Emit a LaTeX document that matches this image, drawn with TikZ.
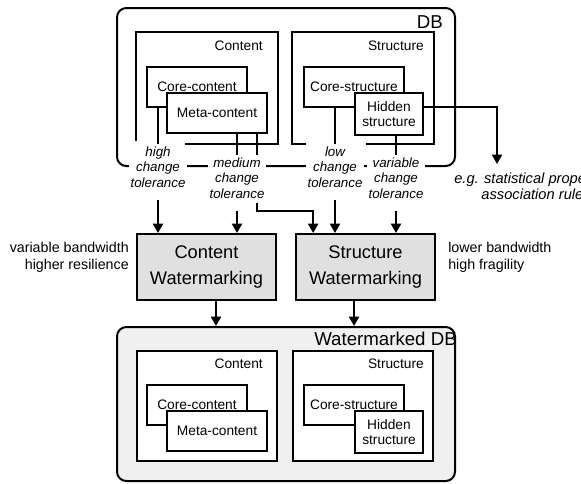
\documentclass[tikz,border=0pt]{standalone}
\usepackage{fontspec}
\setmainfont{Liberation Sans}
\usetikzlibrary{arrows.meta,calc}
\definecolor{wmgray}{RGB}{224,224,224}
\definecolor{dbgray}{RGB}{240,240,240}

\tikzstyle{db frame}=[draw, line width=1.5pt, rounded corners=7pt]
\tikzstyle{db label}=[anchor=east, inner sep=0pt, font=\fontsize{14}{16}\selectfont]
\tikzstyle{part}=[draw, line width=1.5pt, fill=white, inner sep=0pt, align=center, font=\fontsize{10.3}{11.3}\selectfont]
\tikzstyle{core part}=[part, minimum width=75pt, minimum height=30pt]
\tikzstyle{hidden part}=[part, minimum width=51pt, minimum height=31.5pt]
\tikzstyle{outer part}=[part, minimum width=105pt, minimum height=82.5pt]
\tikzstyle{wm box}=[draw, line width=1.5pt, fill=wmgray, minimum width=104pt, minimum height=49.5pt, align=center, font=\fontsize{13.7}{19.5}\selectfont]
\tikzstyle{tolerance}=[fill=white, inner sep=1.5pt, align=center, font=\fontsize{10}{11.6}\selectfont\itshape]
\tikzstyle{note}=[inner sep=0pt, font=\fontsize{10.7}{12.75}\selectfont]
\tikzstyle{link}=[draw, line width=1.5pt]
\tikzstyle{flow}=[draw, line width=1.5pt, -{Triangle[width=7.5pt,length=7pt]}]

\begin{document}
\begin{tikzpicture}[x=0.75pt, y=-0.75pt]
    \useasboundingbox (0,0) rectangle (581,483);
    % The two databases
    \node[db frame, minimum width=253.5pt, minimum height=118.5pt] (tdb) at (286,87) {};
    \node[db frame, fill=dbgray, minimum width=253.5pt, minimum height=115.5pt] (bdb) at (286,404) {};
    \node[db label] (tdblabel) at (443,22) {DB};
    \node[db label] (bdblabel) at (457,339) {Watermarked DB};
    % Change tolerance of each part
    \foreach \pos/\name/\txt in {{(158,167)/high/high},{(237,178)/medium/medium},
        {(335,167)/low/low},{(396,178)/variable/variable}}
    \node[tolerance] (\name) at \pos {\txt\\change\\tolerance};
    % Content and structure, open on top, closed below
    \node[outer part, draw=none, fill=none] (tcont) at (207,88) {};
    \node[outer part, draw=none, fill=none] (tstruct) at (363,88) {};
    \node[outer part] (bcont) at (207,406) {};
    \node[outer part] (bstruct) at (363,406) {};
    \path[link] ($(tcont.south west)+(49,0)$) -| (tcont.north east) -| ($(tcont.south west)+(0,-3)$);
    \path[link] ($(tstruct.south west)+(14,0)$) -| (tstruct.north west) -| (tstruct.south east) -- +(-68,0);
    \foreach \db in {t,b} {
        \node[note, anchor=east, font=\fontsize{10.3}{12}\selectfont] (\db contlabel) at ($(\db cont.north east)+(-15,14)$) {Content};
        \node[note, anchor=east, font=\fontsize{10.3}{12}\selectfont] (\db structlabel) at ($(\db struct.north east)+(-10,14)$) {Structure};
    }
    \foreach \db/\dy in {t/0, b/318} {
        \node[core part] (\db core) at (197,87+\dy) {Core-content};
        \node[core part] (\db meta) at (217,113+\dy) {Meta-content};
        \node[core part] (\db corestr) at (354,87+\dy) {Core-structure};
        \node[hidden part] (\db hidden) at (389,114+\dy) {Hidden\\structure};
    }
    % Parts to their tolerance
    \path[link] (tcore.south -| high.north) -- (high.north);
    \path[link] (tmeta.south -| medium.north) -- (medium.north);
    \path[link] ($(tmeta.south -| medium.north)+(20,0)$) -- ($(medium.north)+(20,0)$);
    \path[link] (tcorestr.south -| low.north) -- (low.north);
    \path[link] (thidden.south -| variable.north) -- (variable.north);
    % Watermarking
    \node[wm box] (cwm) at (206.5,267) {Content\\Watermarking};
    \node[wm box] (swm) at (365.5,267) {Structure\\Watermarking};
    \node[note, anchor=east, align=right] (cwmnote) at (129,257) {variable bandwidth\\higher resilience};
    \node[note, anchor=west, align=left] (swmnote) at (448,257) {lower bandwidth\\high fragility};
    \foreach \src/\dest in {high/cwm, medium/cwm, low/swm, variable/swm}
    \path[flow, shorten <=8pt] (\src.south) -- (\src.south |- \dest.north);
    \path[flow] ($(medium.south)+(20,2)$) -- ++(0,8) -| ($(swm.north west)+(18,0)$);
    \path[flow] ([xshift=7.1pt]cwm.south) -- ([xshift=7.1pt]cwm.south |- bdb.north);
    \path[flow] ([xshift=-8.6pt]swm.south) -- ([xshift=-8.6pt]swm.south |- bdb.north);
    % Hidden structure
    \node[tolerance, fill=none, anchor=north west, font=\fontsize{11}{12}\selectfont\itshape] (eg) at (452,171) {e.g. statistical properties,\\association rules};
    \path[flow] ([yshift=5pt]thidden.east) -| ($(eg.north west)+(45,-7)$);
\end{tikzpicture}
\end{document}
